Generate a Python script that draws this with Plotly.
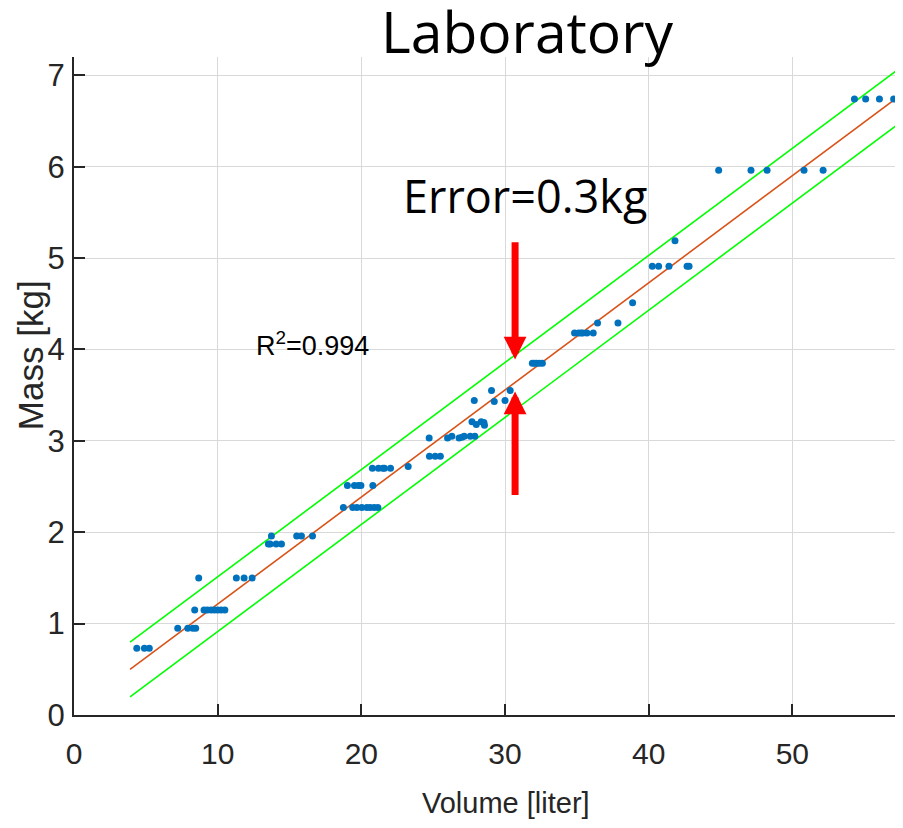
import plotly.graph_objects as go

# ---- data ----
volume = [4.37, 4.9, 5.24,
          7.22, 7.92, 8.27, 8.47,
          8.4, 9.05, 9.28, 9.54, 9.77, 10.0, 10.24, 10.5,
          8.68, 11.3, 11.84, 12.4,
          13.53, 13.65, 14.07, 14.44,
          13.74, 15.5, 15.83, 16.6,
          18.75, 19.4, 19.69, 20.03, 20.38, 20.61, 20.89, 21.15,
          19.03, 19.52, 19.8, 19.97, 20.8,
          20.77, 21.19, 21.5, 21.61, 22.03,
          23.26,
          24.74, 25.14, 25.5,
          24.72, 26.0,
          26.3, 26.8, 27.0, 27.16, 27.58, 27.9,
          27.7, 28.0, 28.34, 28.53, 28.57,
          27.86, 29.25, 30.0,
          29.06, 30.36,
          31.9, 32.05, 32.2, 32.4, 32.6,
          34.84, 35.12, 35.29, 35.42, 35.7, 36.14,
          36.44, 37.86,
          38.88,
          40.25, 40.69, 41.41, 42.67, 42.81,
          41.83,
          44.87, 47.12, 48.24, 50.81, 52.14,
          54.32, 55.1, 56.06, 57.05]
mass = [0.73, 0.73, 0.73,
        0.95, 0.95, 0.95, 0.95,
        1.15, 1.15, 1.15, 1.15, 1.15, 1.15, 1.15, 1.15,
        1.5, 1.5, 1.5, 1.5,
        1.87, 1.87, 1.87, 1.87,
        1.96, 1.96, 1.96, 1.96,
        2.27, 2.27, 2.27, 2.27, 2.27, 2.27, 2.27, 2.27,
        2.51, 2.51, 2.51, 2.51, 2.51,
        2.70, 2.70, 2.70, 2.70, 2.70,
        2.72,
        2.83, 2.83, 2.83,
        3.03, 3.03,
        3.05, 3.03, 3.04, 3.05, 3.05, 3.05,
        3.21, 3.18, 3.21, 3.20, 3.17,
        3.44, 3.43, 3.44,
        3.55, 3.55,
        3.85, 3.85, 3.85, 3.85, 3.85,
        4.18, 4.18, 4.18, 4.18, 4.18, 4.18,
        4.29, 4.29,
        4.51,
        4.91, 4.91, 4.91, 4.91, 4.91,
        5.19,
        5.96, 5.96, 5.96, 5.96, 5.96,
        6.74, 6.74, 6.74, 6.74]

fit_slope = 0.1172
fit_intercept = 0.041
error_band = 0.3
fit_x = [3.9, 57.6]
r_squared = 0.994

x_ticks = [0, 10, 20, 30, 40, 50]
y_ticks = [0, 1, 2, 3, 4, 5, 6, 7]

fit_y = [fit_intercept + fit_slope * v for v in fit_x]
upper_y = [y + error_band for y in fit_y]
lower_y = [y - error_band for y in fit_y]

SANS = "Liberation Sans, Arial, sans-serif"
AXC = "#262626"

fig = go.Figure()
fig.add_trace(go.Scatter(x=fit_x, y=upper_y, mode="lines",
                         line=dict(color="#00FF00", width=1.6), hoverinfo="skip"))
fig.add_trace(go.Scatter(x=fit_x, y=lower_y, mode="lines",
                         line=dict(color="#00FF00", width=1.6), hoverinfo="skip"))
fig.add_trace(go.Scatter(x=fit_x, y=fit_y, mode="lines",
                         line=dict(color="#D95319", width=1.6), hoverinfo="skip"))
fig.add_trace(go.Scatter(x=volume, y=mass, mode="markers",
                         marker=dict(color="#0072BD", size=7)))

fig.update_layout(
    width=903, height=828,
    margin=dict(l=66, r=8, t=49, b=121),
    paper_bgcolor="white", plot_bgcolor="white",
    showlegend=False,
    xaxis=dict(range=[0, 57.7], tickvals=x_ticks, ticks="inside", ticklen=11,
               tickwidth=2, tickcolor=AXC, showline=True, linewidth=2, linecolor=AXC,
               showgrid=True, gridcolor="#D9D9D9", gridwidth=1, zeroline=False,
               automargin=False,
               tickfont=dict(family=SANS, size=30, color=AXC), ticklabelstandoff=11),
    yaxis=dict(range=[0, 7.2], tickvals=y_ticks, ticks="inside", ticklen=11,
               tickwidth=2, tickcolor=AXC, showline=True, linewidth=2, linecolor=AXC,
               showgrid=True, gridcolor="#D9D9D9", gridwidth=1, zeroline=False,
               automargin=False,
               tickfont=dict(family=SANS, size=31, color=AXC), ticklabelstandoff=1),
)

annotations = [
    dict(text="Laboratory", xref="paper", yref="paper", x=0.546, y=1.040,
         xanchor="center", yanchor="middle", showarrow=False,
         font=dict(family="Open Sans, Noto Sans, sans-serif", size=57, color="black")),
    dict(text="Error=0.3kg", xref="paper", yref="paper", x=0.544, y=0.79,
         xanchor="center", yanchor="middle", showarrow=False,
         font=dict(family="Open Sans, Noto Sans, sans-serif", size=45, color="black")),
    dict(text="R<sup>2</sup>=%.3f" % r_squared, xref="x", yref="y", x=12.5, y=4.06,
         xanchor="left", yanchor="middle", showarrow=False,
         font=dict(family=SANS, size=27, color="black")),
    dict(text="Volume [liter]", xref="paper", yref="paper", x=0.521, y=-0.133,
         xanchor="center", yanchor="middle", showarrow=False,
         font=dict(family=SANS, size=29, color=AXC)),
    dict(text="Mass [kg]", xref="paper", yref="paper", x=-0.053, y=0.547,
         xanchor="center", yanchor="middle", showarrow=False, textangle=-90,
         font=dict(family=SANS, size=35, color=AXC)),
    # red arrows
    dict(x=30.7, y=3.89, ax=30.7, ay=5.19, xref="x", yref="y", axref="x", ayref="y",
         text="", showarrow=True, arrowhead=2, arrowsize=0.65, arrowwidth=7,
         arrowcolor="#FF0000", standoff=0, startstandoff=0),
    dict(x=30.7, y=3.54, ax=30.7, ay=2.39, xref="x", yref="y", axref="x", ayref="y",
         text="", showarrow=True, arrowhead=2, arrowsize=0.65, arrowwidth=7,
         arrowcolor="#FF0000", standoff=0, startstandoff=0),
]
fig.update_layout(annotations=annotations)

fig.write_html("out.html")
